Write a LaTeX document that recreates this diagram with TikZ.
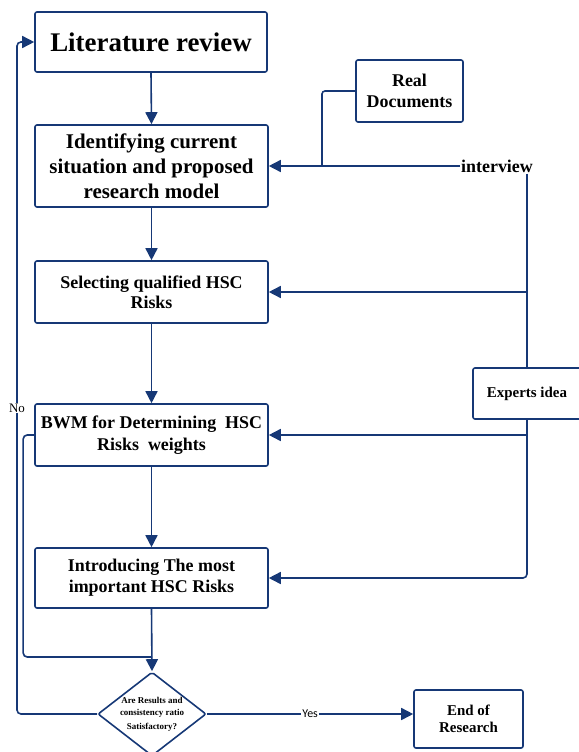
\documentclass[tikz,border=0pt]{standalone}
\usepackage{fontspec}
\setmainfont{Liberation Serif}
\newfontfamily\yesfont{Carlito}
\usetikzlibrary{arrows.meta,shapes.geometric}
\definecolor{flowblue}{RGB}{22,56,118}
\tikzset{
  box/.style={draw=flowblue, line width=1.6bp, rounded corners=2bp, align=center, inner sep=2bp},
  flow/.style={draw=flowblue, line width=1.6bp, -{Triangle[length=12bp,width=12bp]}},
  link/.style={draw=flowblue, line width=1.6bp},
}
\begin{document}
\begin{tikzpicture}[x=1bp,y=-1bp]
  \useasboundingbox (0,0) rectangle (579,752);
  % main column
  \node[box, minimum width=232bp, minimum height=60bp, font=\fontsize{27}{30}\selectfont\bfseries] (lit) at (151,42) {Literature review};
  \node[box, minimum width=233bp, minimum height=82bp, font=\fontsize{21}{25}\selectfont\bfseries] (ident) at (151.5,166) {Identifying current\\situation and proposed\\research model};
  \node[box, minimum width=233bp, minimum height=62bp, font=\fontsize{18}{20}\selectfont\bfseries] (sel) at (151.5,292) {Selecting qualified HSC\\Risks};
  \node[box, minimum width=233bp, minimum height=62bp, font=\fontsize{18}{22}\selectfont\bfseries] (bwm) at (151.5,435) {BWM for Determining\ \ HSC\\Risks\ \ weights};
  \node[box, minimum width=233bp, minimum height=60bp, font=\fontsize{18}{21}\selectfont\bfseries] (intro) at (151.5,578) {Introducing The most\\important HSC Risks};
  \node[box, shape=diamond, aspect=1.3, inner sep=0pt, minimum width=108bp, minimum height=84bp, font=\fontsize{9}{12}\selectfont\bfseries] (check) at (152,714) {Are Results and\\consistency ratio\\[2bp]Satisfactory?};
  \node[box, minimum width=109bp, minimum height=58bp, font=\fontsize{15}{17}\selectfont\bfseries] (fin) at (468.5,719) {End of\\Research};
  % sources
  \node[box, minimum width=107bp, minimum height=62bp, font=\fontsize{18}{21}\selectfont\bfseries] (real) at (409.5,91) {Real\\Documents};
  \node[inner sep=1bp, font=\fontsize{18}{20}\selectfont\bfseries] (inter) at (497,166) {interview};
  \node[box, minimum width=108bp, minimum height=51bp, font=\fontsize{15}{17}\selectfont\bfseries] (expert) at (527,393.5) {Experts idea};
  \coordinate (merge) at (322,166);
  \coordinate (loopjoin) at (152,657);
  \coordinate (nobend) at (17,714);

  \draw[flow] (lit.south) -- (ident.north);
  \draw[flow] (ident.south) -- (sel.north);
  \draw[flow] (sel.south) -- (bwm.north);
  \draw[flow] (bwm.south) -- (intro.north);
  \draw[flow] (intro.south) -- (check.north);
  \draw[link, rounded corners=4bp] (bwm.west) -- ++(-11,0) |- (loopjoin);
  \draw[flow, rounded corners=4bp] (check.west) -- (nobend) |- (lit.west);
  \node[fill=white, inner sep=1bp, font=\fontsize{13}{15}\selectfont] (no) at (17,408) {No};
  \draw[flow] (check.east) -- node[fill=white, inner sep=1bp, font=\yesfont\fontsize{12}{14}\selectfont] (yes) {Yes} (check.east -| fin.west);

  \draw[flow] (inter.west) -- (ident.east);
  \draw[link, rounded corners=3bp] (real.west) -| (merge);
  \draw[link] (inter.south -| expert.north) -- (expert.north);
  \draw[flow] (sel.east -| expert.north) -- (sel.east);
  \draw[flow] (bwm.east -| expert.south) -- (bwm.east);
  \draw[flow, rounded corners=4bp] (expert.south) |- (intro.east);
\end{tikzpicture}
\end{document}
